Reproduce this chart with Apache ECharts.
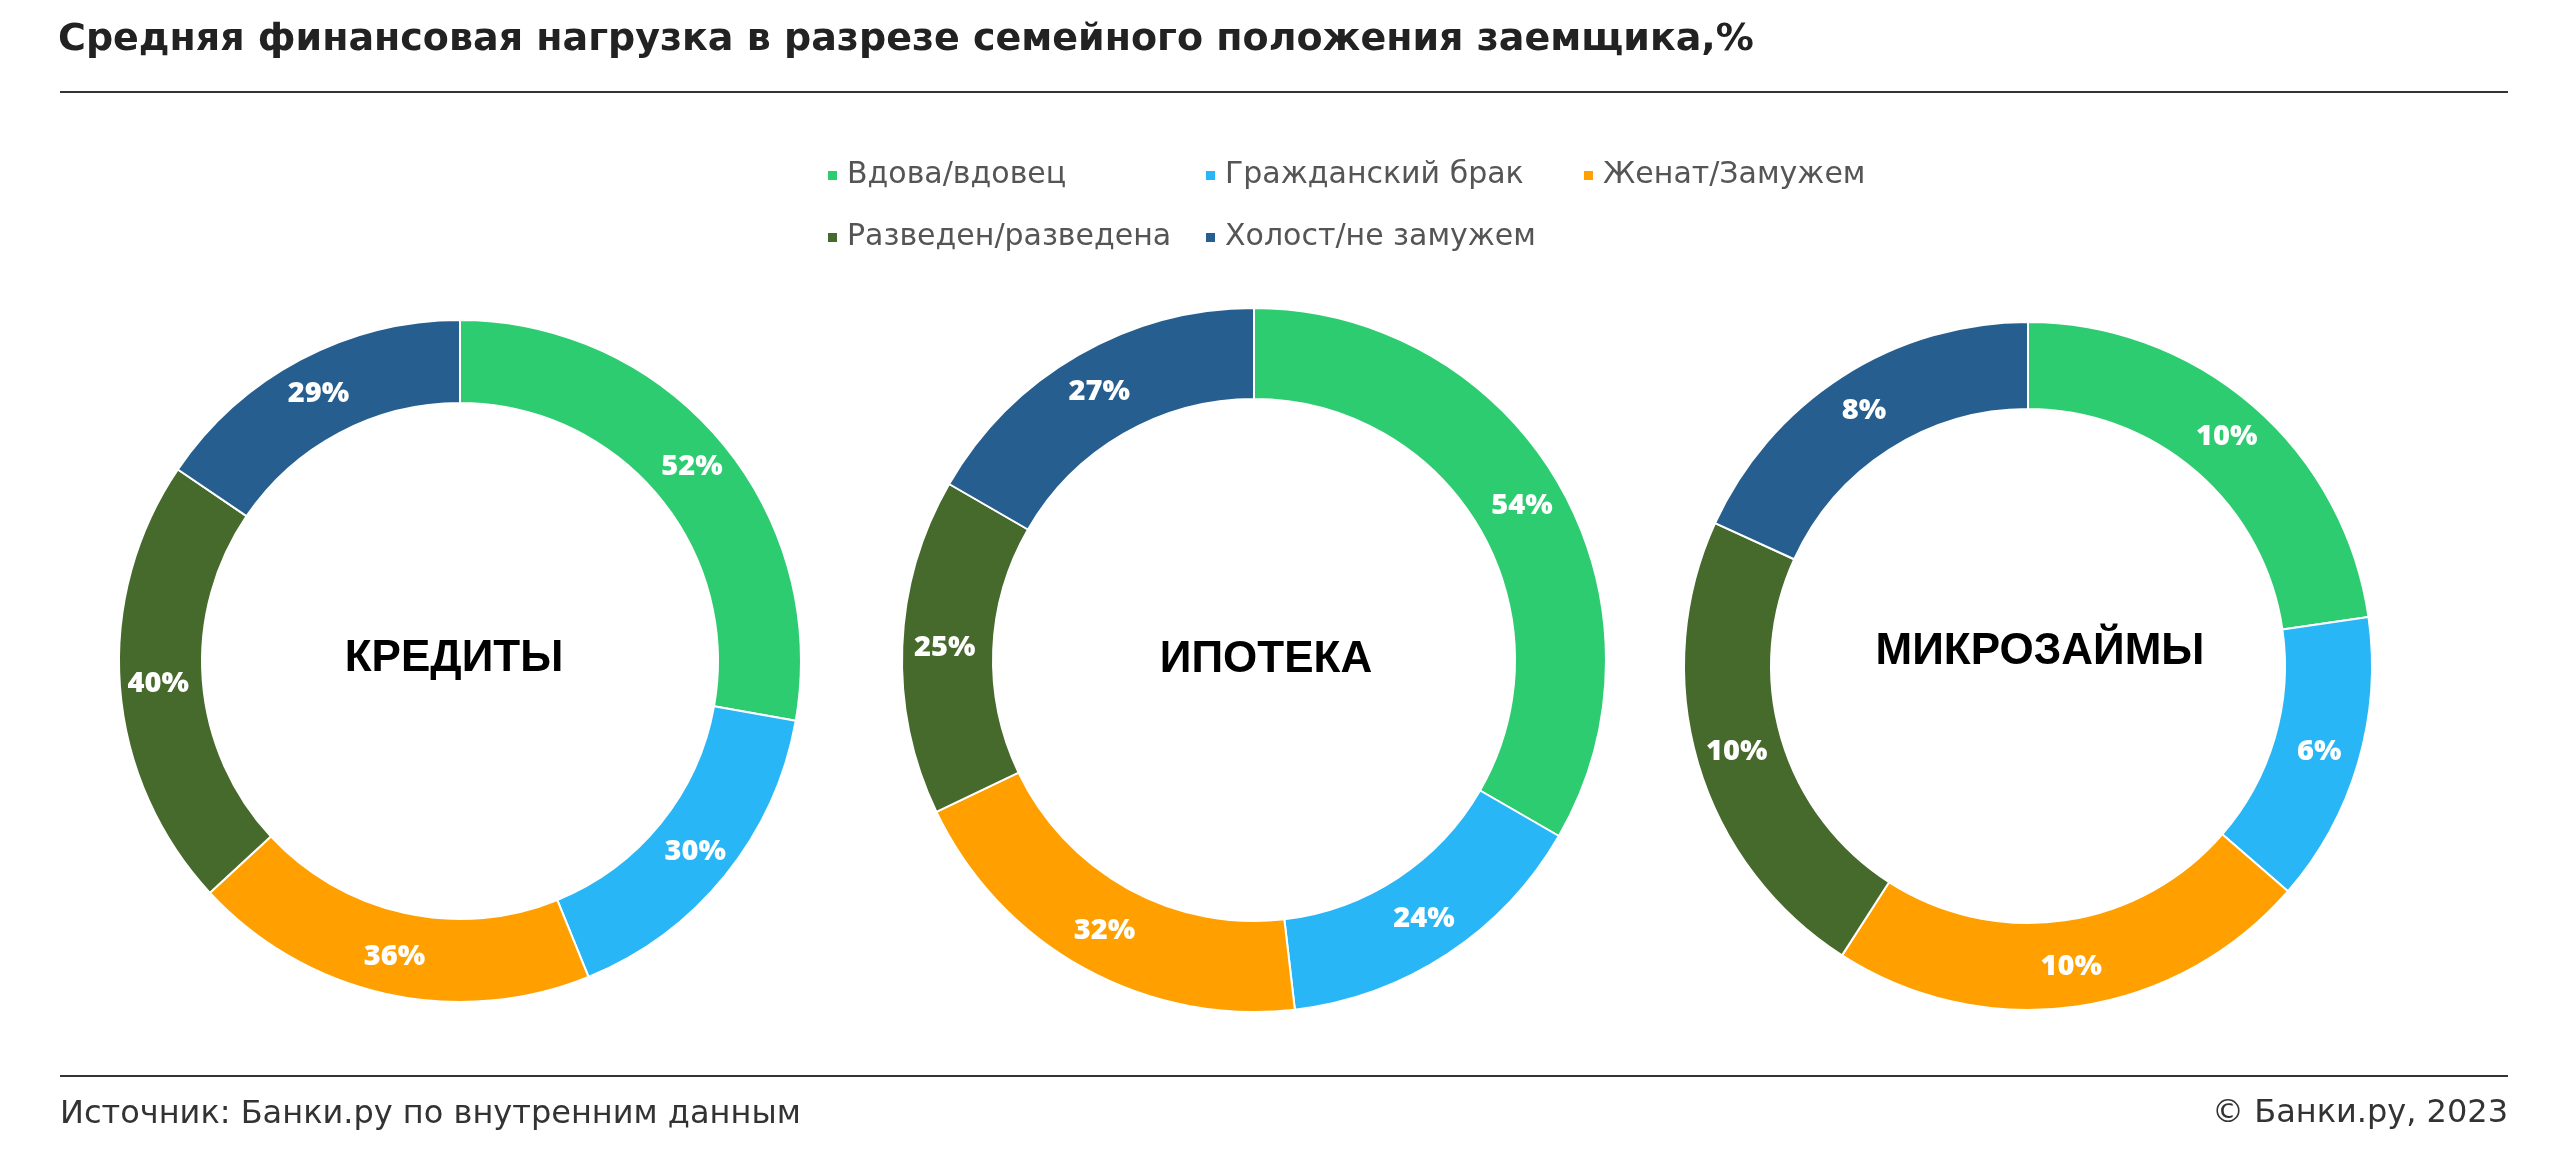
<!DOCTYPE html>
<html>
<head>
<meta charset="utf-8">
<script src="https://cdn.jsdelivr.net/npm/echarts@6/dist/echarts.min.js"></script>
<style>
html,body{margin:0;padding:0;background:#fff;}
#chart{width:2568px;height:1170px;}
</style>
</head>
<body>
<div id="chart"></div>
<script>
const titleText = 'Средняя финансовая нагрузка в разрезе семейного положения заемщика,%';
const sourceText = 'Источник: Банки.ру по внутренним данным';
const copyrightText = '© Банки.ру, 2023';
const categories = ['Вдова/вдовец', 'Гражданский брак', 'Женат/Замужем', 'Разведен/разведена', 'Холост/не замужем'];
const colors = ['#2ecc71', '#29b6f6', '#ffa000', '#46692c', '#265f8f'];
const panelNames = ['КРЕДИТЫ', 'ИПОТЕКА', 'МИКРОЗАЙМЫ'];
const credits = [52, 30, 36, 40, 29];
const mortgage = [54, 24, 32, 25, 27];
const microloans = [10, 6, 10, 10, 8];

const panels = [
  { name: panelNames[0], values: credits, center: [460, 661], radius: [258, 341], textPos: [454, 659] },
  { name: panelNames[1], values: mortgage, center: [1254, 660], radius: [261, 352], textPos: [1266, 660] },
  { name: panelNames[2], values: microloans, center: [2028, 666], radius: [257, 344], textPos: [2040, 652] }
];

const chart = echarts.init(document.getElementById('chart'), null, { renderer: 'canvas' });

const legendBase = {
  orient: 'horizontal',
  padding: 0,
  itemGap: 28,
  itemWidth: 11,
  itemHeight: 11,
  icon: 'rect',
  selectedMode: false,
  textStyle: {
    fontFamily: 'DejaVu Sans',
    fontSize: 30,
    color: '#555555',
    width: 329,
    lineHeight: 32,
    padding: [9, 0, 0, 4]
  }
};

const option = {
  backgroundColor: '#ffffff',
  color: colors,
  animation: false,
  legend: [
    Object.assign({}, legendBase, { left: 826, top: 155, data: categories.slice(0, 3) }),
    Object.assign({}, legendBase, { left: 826, top: 217, data: categories.slice(3) })
  ],
  graphic: [
    { type: 'text', x: 58, y: 40, style: { text: titleText, font: 'bold 38px "DejaVu Sans"', fill: '#222222', textVerticalAlign: 'middle' } },
    { type: 'line', shape: { x1: 60, y1: 92, x2: 2508, y2: 92 }, style: { stroke: '#333333', lineWidth: 2 } },
    { type: 'line', shape: { x1: 60, y1: 1076, x2: 2508, y2: 1076 }, style: { stroke: '#333333', lineWidth: 2 } },
    { type: 'text', x: 60, y: 1115, style: { text: sourceText, font: 'normal 32px "DejaVu Sans"', fill: '#333333', textVerticalAlign: 'middle', textAlign: 'left' } },
    { type: 'text', x: 2508, y: 1114, style: { text: copyrightText, font: 'normal 32px "DejaVu Sans"', fill: '#333333', textVerticalAlign: 'middle', textAlign: 'right' } }
  ].concat(panels.map(p => ({
    type: 'text', x: p.textPos[0], y: p.textPos[1],
    style: { text: p.name, font: 'bold 44px "Liberation Sans"', fill: '#000000', textAlign: 'center', textVerticalAlign: 'middle' }
  }))),
  series: panels.map(p => ({
    type: 'pie',
    name: p.name,
    center: p.center,
    radius: p.radius,
    startAngle: 90,
    clockwise: true,
    avoidLabelOverlap: false,
    itemStyle: { borderColor: '#ffffff', borderWidth: 2 },
    label: {
      show: true,
      position: 'inside',
      formatter: '{c}%',
      color: '#ffffff',
      fontFamily: 'Open Sans',
      fontWeight: 800,
      fontSize: 29
    },
    labelLine: { show: false },
    emphasis: { disabled: true },
    data: categories.map((c, i) => ({ name: c, value: p.values[i] }))
  }))
};

chart.setOption(option);
</script>
</body>
</html>
